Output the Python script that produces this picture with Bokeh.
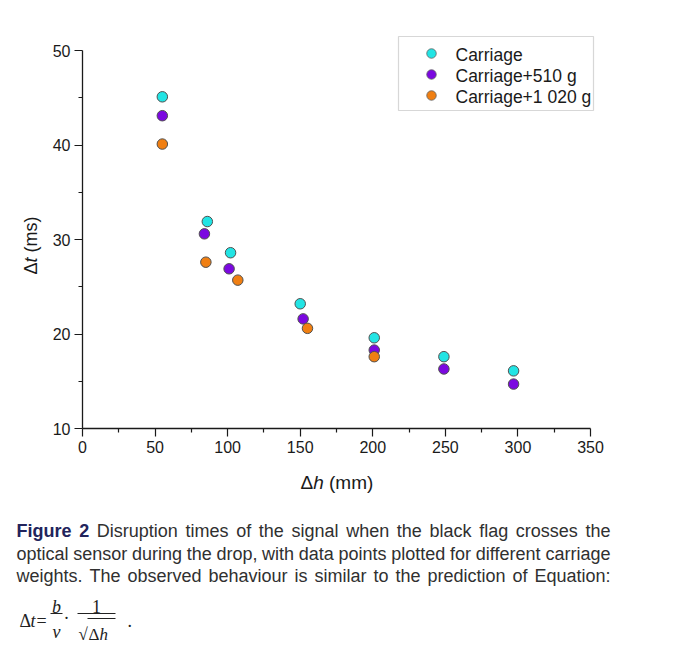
import math
from bokeh.plotting import figure
from bokeh.models import Range1d, FixedTicker, Label, BoxAnnotation
from bokeh.layouts import column, row
from bokeh.core.properties import value
from bokeh.embed import file_html
from bokeh.resources import INLINE

# ---------------- data ----------------
series_names = ["Carriage", "Carriage+510 g", "Carriage+1 020 g"]
h_carriage = [55, 86, 102, 150, 201, 249, 297]
t_carriage = [45.1, 31.9, 28.6, 23.2, 19.6, 17.6, 16.1]
h_510 = [55, 84, 101, 152, 201, 249, 297]
t_510 = [43.1, 30.6, 26.9, 21.6, 18.3, 16.3, 14.7]
h_1020 = [55, 85, 107, 155, 201]
t_1020 = [40.1, 27.6, 25.7, 20.6, 17.6]
x_ticks = [0, 50, 100, 150, 200, 250, 300, 350]
x_minor = [25, 75, 125, 175, 225, 275, 325]
y_ticks = [10, 20, 30, 40, 50]
y_minor = [15, 25, 35, 45]
x_bounds = (0, 350)
y_bounds = (10, 50)
colors = ["#22e4e4", "#7b08e0", "#f07f12"]

caption_lines = [
    [("Figure", True), ("2", True), ("Disruption", False), ("times", False), ("of", False),
     ("the", False), ("signal", False), ("when", False), ("the", False), ("black", False),
     ("flag", False), ("crosses", False), ("the", False)],
    [(w, False) for w in "optical sensor during the drop, with data points plotted for different carriage".split()],
    [(w, False) for w in "weights. The observed behaviour is similar to the prediction of Equation:".split()],
]

# ---------------- layout constants (page pixels) ----------------
PAGE_W = 680
YL_W = 46                 # width of the y-label strip
H1 = 470                  # height of the plot row
H2 = 176                  # height of the caption strip
FL, FB = 82, 428          # frame left / bottom on the page (x=0, y=10)
SX = 508 / 350.0          # px per data unit
SY = 378 / 40.0
FT, FR = 28, 600          # frame top / right on the page (room for legend)
PW = PAGE_W - YL_W


def px2x(px):
    return (px - FL) / SX


def py2y(py):
    return 10 + (FB - py) / SY


# Arial / Liberation Sans metrics (per 1000 em)
REG = dict(zip("abcdefghijklmnopqrstuvwxyz",
               [556, 556, 500, 556, 556, 278, 556, 556, 222, 222, 500, 222, 833,
                556, 556, 556, 556, 333, 500, 278, 556, 500, 722, 500, 500, 500]))
REG.update({" ": 278, ",": 278, ".": 278, ":": 278, "2": 556, "D": 722, "T": 611,
            "E": 667, "F": 611, "C": 722, "(": 333, ")": 333, "+": 584, "\u0394": 668})
BOLD = {"F": 611, "i": 278, "g": 611, "u": 611, "r": 389, "e": 556, "2": 556, " ": 278}


def tw(s, size, bold=False):
    tab = BOLD if bold else REG
    return sum(tab.get(c, 556) for c in s) * size / 1000.0


def blank_fig(w, h, xr, yr):
    f = figure(width=w, height=h, x_range=xr, y_range=yr, min_border=0,
               toolbar_location=None, output_backend="svg",
               x_axis_type=None, y_axis_type=None)
    f.grid.visible = False
    f.outline_line_color = None
    f.border_fill_color = "white"
    f.background_fill_color = "white"
    f.frame_align = False
    return f


# ---------------- main figure ----------------
p = figure(width=PW, height=H1,
           x_range=Range1d(0, (FR - FL) / SX), y_range=Range1d(10, 10 + (FB - FT) / SY),
           min_border_left=FL - YL_W, min_border_right=PAGE_W - FR,
           min_border_top=FT, min_border_bottom=H1 - FB,
           toolbar_location=None, output_backend="svg")
p.frame_align = False
p.grid.visible = False
p.outline_line_color = None
p.background_fill_color = "white"
p.border_fill_color = "white"

for ax, maj, mnr, bnd in ((p.xaxis[0], x_ticks, x_minor, x_bounds),
                          (p.yaxis[0], y_ticks, y_minor, y_bounds)):
    ax.ticker = FixedTicker(ticks=maj, minor_ticks=mnr)
    ax.bounds = bnd
    ax.axis_line_color = "#1a1a1a"
    ax.axis_line_width = 1.3
    ax.major_tick_line_color = "#1a1a1a"
    ax.minor_tick_line_color = "#1a1a1a"
    ax.major_tick_line_width = 1.2
    ax.minor_tick_line_width = 1.2
    ax.major_tick_in = 0
    ax.major_tick_out = 8
    ax.minor_tick_in = 0
    ax.minor_tick_out = 4
    ax.major_label_text_font = "Liberation Sans"
    ax.major_label_text_font_size = "16px"
    ax.major_label_text_color = "#1a1a1a"
    ax.major_label_standoff = 4

for xs, ys, c in ((h_carriage, t_carriage, colors[0]),
                  (h_510, t_510, colors[1]),
                  (h_1020, t_1020, colors[2])):
    p.scatter(x=xs, y=ys, size=10.5, fill_color=c, line_color="#505050", line_width=1)

# legend (drawn by hand)
legend_rows_py = [53, 74, 95]
for c, name, py in zip(colors, series_names, legend_rows_py):
    p.scatter(x=[px2x(431)], y=[py2y(py)], size=9.5, fill_color=c,
              line_color="#606060", line_width=0.8)
    p.add_layout(Label(x=px2x(455), y=py2y(py + 1), text=name, text_baseline="middle",
                       text_font="Liberation Sans", text_font_size="17.5px",
                       text_color="#1a1a1a"))
p.add_layout(BoxAnnotation(left=px2x(398), right=px2x(593), top=py2y(36), bottom=py2y(110),
                           fill_color=None, fill_alpha=0, line_color="#7a7a7a", line_width=1.2))

# ---------------- y label strip ----------------
yf = blank_fig(YL_W, H1, Range1d(0, YL_W), Range1d(0, H1))
# (text, style, extra space before it)
yl = [("\u0394", "normal", 0), ("t", "italic", 0), ("(ms)", "normal", 1)]
size = 18
cy = 274
for s, st, sp in yl:
    cy -= sp * tw(" ", size)
    yf.text(x=[30], y=[H1 - cy], text=[s], angle=math.pi / 2, text_align="left",
            text_baseline="middle", text_font=value("Liberation Sans"),
            text_font_size=f"{size}px", text_font_style=st, text_color="#1a1a1a")
    cy -= tw(s, size)

# ---------------- caption strip (page coordinates, y downwards) ----------------
TOP2 = H1
q = blank_fig(PAGE_W, H2, Range1d(0, PAGE_W), Range1d(TOP2 + H2, TOP2))

# x axis label: Δh (mm)
xl = [("\u0394", "normal", 0), ("h", "italic", 0), ("(mm)", "normal", 1)]
size = 19
cx = 300
for s, st, sp in xl:
    cx += sp * tw(" ", size)
    q.text(x=[cx], y=[482], text=[s], text_baseline="middle",
           text_font=value("Liberation Sans"), text_font_size=f"{size}px",
           text_font_style=st, text_color="#1a1a1a")
    cx += tw(s, size)

CAP_SIZE = 18
LEFT, RIGHT = 16, 610
baselines = [530, 553, 575]
for words, base in zip(caption_lines, baselines):
    widths = [tw(w, CAP_SIZE, b) for w, b in words]
    gap = (RIGHT - LEFT - sum(widths)) / (len(words) - 1)
    xpos = LEFT
    xs_b, tx_b, xs_r, tx_r = [], [], [], []
    for (w, b), wd in zip(words, widths):
        if b:
            xs_b.append(xpos); tx_b.append(w)
        else:
            xs_r.append(xpos); tx_r.append(w)
        xpos += wd + gap
    if tx_b:
        q.text(x=xs_b, y=[base] * len(xs_b), text=tx_b, text_font=value("Liberation Sans"),
               text_font_size=f"{CAP_SIZE}px", text_font_style="bold",
               text_color="#22245c", text_baseline="alphabetic")
    q.text(x=xs_r, y=[base] * len(xs_r), text=tx_r, text_font=value("Liberation Sans"),
           text_font_size=f"{CAP_SIZE}px", text_color="#303030", text_baseline="alphabetic")

# equation  Δt = b/v · 1/√Δh .
SERIF = value("Liberation Serif")
eq_col = "#222222"


def etext(x, y, s, style="normal", size="18px", align="left"):
    q.text(x=[x], y=[y], text=[s], text_font=SERIF, text_font_size=size,
           text_font_style=style, text_color=eq_col, text_align=align,
           text_baseline="alphabetic")


etext(19, 620, "\u0394")
etext(30, 620, "t", "italic")
etext(36, 620, "=")
etext(56, 606, "b", "italic", align="center")
q.segment(x0=[50], y0=[613], x1=[62], y1=[613], line_color=eq_col, line_width=1)
etext(56, 631, "v", "italic", align="center")
etext(66, 617, "\u00b7", align="center")
etext(96, 606, "1", align="center")
q.segment(x0=[77], y0=[613], x1=[115], y1=[613], line_color=eq_col, line_width=1)
etext(78, 634, "\u221a", size="17px")
q.segment(x0=[87], y0=[618], x1=[115], y1=[618], line_color=eq_col, line_width=1)
etext(88, 634, "\u0394", size="17px")
etext(99, 634, "h", "italic", size="17px")
etext(127, 620, ".")

layout = column(row(yf, p), q)
open("out.html", "w").write(file_html(layout, INLINE))
